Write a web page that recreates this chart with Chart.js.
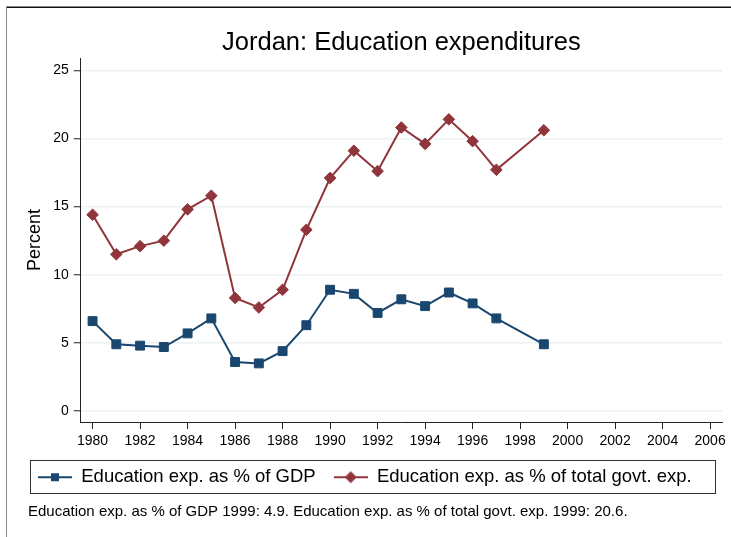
<!DOCTYPE html>
<html>
<head>
<meta charset="utf-8">
<title>Jordan: Education expenditures</title>
<script src="https://cdn.jsdelivr.net/npm/chart.js@4/dist/chart.umd.min.js"></script>
<style>
  html, body { margin: 0; padding: 0; background: #fff; }
  #wrap { width: 731px; height: 537px; }
</style>
</head>
<body>
<div id="wrap"><canvas id="eduChart" width="731" height="537"></canvas></div>
<script>
// values
const years = [1980, 1981, 1982, 1983, 1984, 1985, 1986, 1987, 1988, 1989,
               1990, 1991, 1992, 1993, 1994, 1995, 1996, 1997, 1999];
const gdpShare = [6.6, 4.9, 4.8, 4.7, 5.7, 6.8, 3.6, 3.5, 4.4, 6.3,
                  8.9, 8.6, 7.2, 8.2, 7.7, 8.7, 7.9, 6.8, 4.9];
const govtShare = [14.4, 11.5, 12.1, 12.5, 14.8, 15.8, 8.3, 7.6, 8.9, 13.3,
                   17.1, 19.1, 17.6, 20.8, 19.6, 21.4, 19.8, 17.7, 20.6];
const xTickYears = [1980, 1982, 1984, 1986, 1988, 1990, 1992, 1994,
                    1996, 1998, 2000, 2002, 2004, 2006];
const yTickValues = [0, 5, 10, 15, 20, 25];
const seriesNames = ['Education exp. as % of GDP', 'Education exp. as % of total govt. exp.'];
const footNote = 'Education exp. as % of GDP 1999: 4.9. Education exp. as % of total govt. exp. 1999: 20.6.';

const navy = '#1a476f';
const maroon = '#90353b';
const fontFamily = '"Liberation Sans", Arial, Helvetica, sans-serif';

// little line-with-marker pictures for the legend
function legendIcon(color, shape) {
    const c = document.createElement('canvas');
    c.width = 34;
    c.height = 14;
    const g = c.getContext('2d');
    g.strokeStyle = color;
    g.fillStyle = color;
    g.lineWidth = 2;
    g.beginPath();
    g.moveTo(0, 7);
    g.lineTo(34, 7);
    g.stroke();
    g.beginPath();
    if (shape === 'square') {
        g.rect(13, 3, 8, 8);
    } else {
        g.moveTo(17, 1);
        g.lineTo(23, 7);
        g.lineTo(17, 13);
        g.lineTo(11, 7);
        g.closePath();
    }
    g.fill();
    return c;
}

const icons = [legendIcon(navy, 'square'), legendIcon(maroon, 'diamond')];

const frameAndNote = {
    id: 'frameAndNote',
    afterDraw(chart) {
        const ctx = chart.ctx;
        const lg = chart.legend;
        ctx.save();
        // outer frame
        ctx.strokeStyle = '#111';
        ctx.lineWidth = 1.5;
        ctx.beginPath();
        ctx.moveTo(6, 7.25);
        ctx.lineTo(chart.width, 7.25);
        ctx.stroke();
        ctx.strokeStyle = '#8a8a8a';
        ctx.lineWidth = 1;
        ctx.beginPath();
        ctx.moveTo(6.5, 7);
        ctx.lineTo(6.5, chart.height);
        ctx.stroke();
        // legend box
        ctx.strokeStyle = '#333';
        ctx.strokeRect(lg.left + 10.5, lg.top + 10.5, lg.right - lg.left - 17, 33);
        // note under the legend
        ctx.fillStyle = '#000';
        ctx.font = '15px ' + fontFamily;
        ctx.textBaseline = 'middle';
        ctx.textAlign = 'left';
        ctx.fillText(footNote, 28, 512);
        ctx.restore();
    }
};

const ctx = document.getElementById('eduChart').getContext('2d');

const chart = new Chart(ctx, {
    type: 'line',
    data: {
        datasets: [{
            label: seriesNames[0],
            data: years.map((yr, i) => ({ x: yr, y: gdpShare[i] })),
            borderColor: navy,
            backgroundColor: navy,
            borderWidth: 2,
            pointStyle: 'rect',
            pointRadius: 6.3,
            pointBorderWidth: 1,
            tension: 0
        }, {
            label: seriesNames[1],
            data: years.map((yr, i) => ({ x: yr, y: govtShare[i] })),
            borderColor: maroon,
            backgroundColor: maroon,
            borderWidth: 2,
            pointStyle: 'rectRot',
            pointRadius: 5.8,
            pointBorderWidth: 1,
            tension: 0
        }]
    },
    options: {
        responsive: false,
        devicePixelRatio: 1,
        animation: false,
        layout: { padding: { left: 20, right: 9, top: 0, bottom: 40.5 } },
        scales: {
            x: {
                type: 'linear',
                min: 1979.5,
                max: 2006.5,
                afterBuildTicks: s => { s.ticks = xTickYears.map(v => ({ value: v })); },
                afterFit: s => { s.height = 28; s.paddingLeft = 0; s.paddingRight = 0; },
                ticks: {
                    autoSkip: false,
                    maxRotation: 0,
                    padding: 4,
                    color: '#000',
                    font: { size: 14, family: fontFamily },
                    callback: v => String(v)
                },
                grid: {
                    drawOnChartArea: false,
                    drawTicks: true,
                    tickLength: 7,
                    tickColor: '#222',
                    tickWidth: 1
                },
                border: { color: '#222', width: 1 }
            },
            y: {
                type: 'linear',
                min: -0.8,
                max: 25.9,
                afterBuildTicks: s => { s.ticks = yTickValues.map(v => ({ value: v })); },
                afterFit: s => { s.width = 60.7; s.paddingTop = 0; s.paddingBottom = 0; },
                ticks: {
                    padding: 5,
                    color: '#000',
                    font: { size: 14, family: fontFamily }
                },
                grid: {
                    color: '#eaf2f3',
                    lineWidth: 1.5,
                    drawTicks: true,
                    tickLength: 7,
                    tickColor: '#222',
                    tickWidth: 1
                },
                border: { color: '#222', width: 1 },
                title: {
                    display: true,
                    text: 'Percent',
                    color: '#000',
                    font: { size: 18, family: fontFamily },
                    padding: { top: 4, bottom: 0 }
                }
            }
        },
        plugins: {
            title: {
                display: true,
                fullSize: false,
                text: 'Jordan: Education expenditures',
                color: '#000',
                font: { size: 25.5, family: fontFamily, weight: 'normal', lineHeight: 1 },
                padding: { top: 30, bottom: 2.5 }
            },
            legend: {
                position: 'bottom',
                align: 'start',
                labels: {
                    color: '#000',
                    font: { size: 18.5, family: fontFamily },
                    usePointStyle: true,
                    pointStyleWidth: 34,
                    padding: 18,
                    generateLabels: c => Chart.defaults.plugins.legend.labels.generateLabels(c)
                        .map((item, i) => Object.assign(item, { pointStyle: icons[i] }))
                }
            },
            tooltip: { enabled: false }
        }
    },
    plugins: [frameAndNote]
});
</script>
</body>
</html>
